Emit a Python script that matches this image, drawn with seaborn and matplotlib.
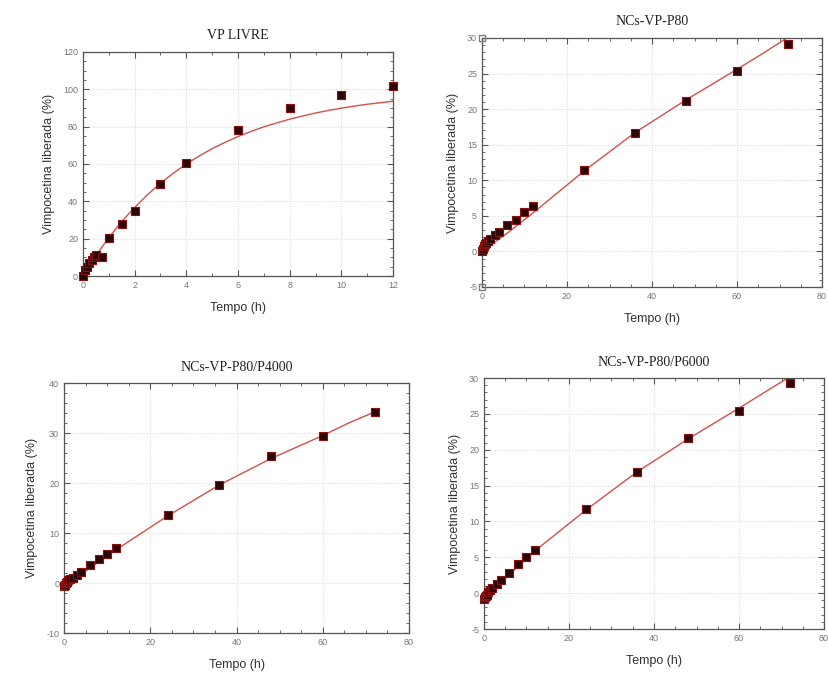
import numpy as np
import pandas as pd
import matplotlib
matplotlib.use("Agg")
import matplotlib.pyplot as plt
from matplotlib.ticker import MultipleLocator, AutoMinorLocator
import seaborn as sns

# ---------------- data ----------------
# VP LIVRE
t_livre = [0, 0.083, 0.167, 0.25, 0.333, 0.417, 0.5, 0.75, 1, 1.5, 2, 3, 4, 6, 8, 10, 12]
y_livre = [0, 3.0, 5.0, 6.8, 8.5, 10.0, 11.0, 10.4, 20.6, 27.9, 35.0, 49.5, 60.6, 78.2, 90.0, 96.8, 102.0]
fit_t_livre = [0, 0.25, 0.5, 0.75, 1, 1.25, 1.5, 1.75, 2, 2.5, 3, 3.5, 4, 4.5, 5, 5.5, 6,
               6.5, 7, 7.5, 8, 8.5, 9, 9.5, 10, 10.5, 11, 11.5, 12]
fit_y_livre = [0, 5.5, 10.8, 15.8, 20.5, 24.9, 29.2, 33.0, 36.7, 43.6, 49.7, 55.1, 60.0,
               64.3, 68.2, 71.6, 74.7, 77.4, 79.9, 82.0, 84.0, 85.7, 87.3, 88.7, 89.9,
               91.0, 92.0, 92.8, 93.6]

# common time points for nanocapsules
t_nc = [0, 0.25, 0.5, 0.75, 1, 1.5, 2, 3, 4, 6, 8, 10, 12, 24, 36, 48, 60, 72]
y_p80 = [0, 0.4, 0.8, 1.0, 1.2, 1.5, 1.7, 2.3, 2.7, 3.7, 4.4, 5.5, 6.4, 11.45, 16.6, 21.1, 25.3, 29.2]
y_p4000 = [-0.5, -0.3, 0.0, 0.3, 0.6, 0.9, 1.1, 1.6, 2.2, 3.6, 4.75, 5.75, 6.95, 13.6, 19.6, 25.4, 29.4, 34.2]
y_p6000 = [-0.8, -0.6, -0.4, -0.2, 0.2, 0.5, 0.7, 1.3, 1.9, 2.85, 4.0, 5.0, 5.97, 11.7, 16.85, 21.6, 25.45, 29.3]

fit_t_nc = [0, 3, 6, 12, 24, 36, 48, 60, 66, 72]
fit_p80 = [0, 1.3, 2.6, 5.4, 11.3, 16.7, 21.3, 25.6, 27.8, 30.1]
fit_p4000 = [-0.5, 1.2, 3.0, 6.6, 13.4, 19.6, 24.9, 29.5, 32.0, 34.2]
fit_p6000 = [-0.8, 0.9, 2.6, 5.9, 11.6, 16.9, 21.5, 25.8, 28.0, 30.2]

# corner handle markers visible in NCs-VP-P80 panel
handle_t = [0, 0]
handle_y = [30, -5]

titles = ["VP LIVRE", "NCs-VP-P80", "NCs-VP-P80/P4000", "NCs-VP-P80/P6000"]
xlabel = "Tempo (h)"
ylabel = "Vimpocetina liberada (%)"

# ---------------- style ----------------
sns.set_theme(style="ticks")
plt.rcParams["font.family"] = ["Liberation Sans", "DejaVu Sans"]
plt.rcParams["axes.unicode_minus"] = False

fig = plt.figure(figsize=(8.29, 6.82), dpi=100)

positions = [
    [0.1001, 0.5953, 0.3740, 0.3285],
    [0.5814, 0.5792, 0.4102, 0.3651],
    [0.0772, 0.0718, 0.4162, 0.3666],
    [0.5838, 0.0777, 0.4102, 0.3680],
]
xlims = [(0, 12), (0, 80), (0, 80), (0, 80)]
ylims = [(0, 120), (-5, 30), (-10, 40), (-5, 30)]
xmaj = [2, 20, 20, 20]
ymaj = [20, 5, 10, 5]

series = [
    (t_livre, y_livre, fit_t_livre, fit_y_livre),
    (t_nc, y_p80, fit_t_nc, fit_p80),
    (t_nc, y_p4000, fit_t_nc, fit_p4000),
    (t_nc, y_p6000, fit_t_nc, fit_p6000),
]

pt_face = "#2a0505"
pt_edge = "#8a1010"
line_col = "#d0504a"

for i, (pos, (tx, ty, fx, fy)) in enumerate(zip(positions, series)):
    ax = fig.add_axes(pos)
    dfp = pd.DataFrame({"t": tx, "y": ty})
    dff = pd.DataFrame({"t": fx, "y": fy})
    sns.lineplot(data=dff, x="t", y="y", ax=ax, color=line_col, linewidth=1.0,
                 zorder=2, estimator=None, sort=True)
    sns.scatterplot(data=dfp, x="t", y="y", ax=ax, marker="s", s=26,
                    color=pt_face, edgecolor=pt_edge, linewidth=0.8,
                    zorder=3, clip_on=False)
    if i == 1:
        dfh = pd.DataFrame({"t": handle_t, "y": handle_y})
        sns.scatterplot(data=dfh, x="t", y="y", ax=ax, marker="s", s=24,
                        facecolor="none", edgecolor="#808080", linewidth=1.0,
                        zorder=4, clip_on=False)
    ax.set_xlim(*xlims[i])
    ax.set_ylim(*ylims[i])
    ax.xaxis.set_major_locator(MultipleLocator(xmaj[i]))
    ax.yaxis.set_major_locator(MultipleLocator(ymaj[i]))
    ax.xaxis.set_minor_locator(AutoMinorLocator(2 if i == 0 else 4))
    ax.yaxis.set_minor_locator(AutoMinorLocator(4 if i == 0 else 5))
    ax.grid(True, which="major", color="#d8d8d8", linestyle=":", linewidth=0.7)
    ax.tick_params(which="both", direction="in", top=True, right=True,
                   colors="#555555", labelcolor="#777777", labelsize=6.5)
    ax.tick_params(which="major", length=4, width=0.8)
    ax.tick_params(which="minor", length=2, width=0.6)
    for sp in ax.spines.values():
        sp.set_color("#555555")
        sp.set_linewidth(0.9)
    ax.set_xlabel(xlabel, fontsize=9, color="#333333", labelpad=9)
    ax.set_ylabel(ylabel, fontsize=9, color="#333333", labelpad=6)
    ax.set_title(titles[i], fontsize=10, family=["Liberation Serif", "DejaVu Serif"],
                 color="#222222", pad=9)

fig.savefig("out.png", dpi=100)
